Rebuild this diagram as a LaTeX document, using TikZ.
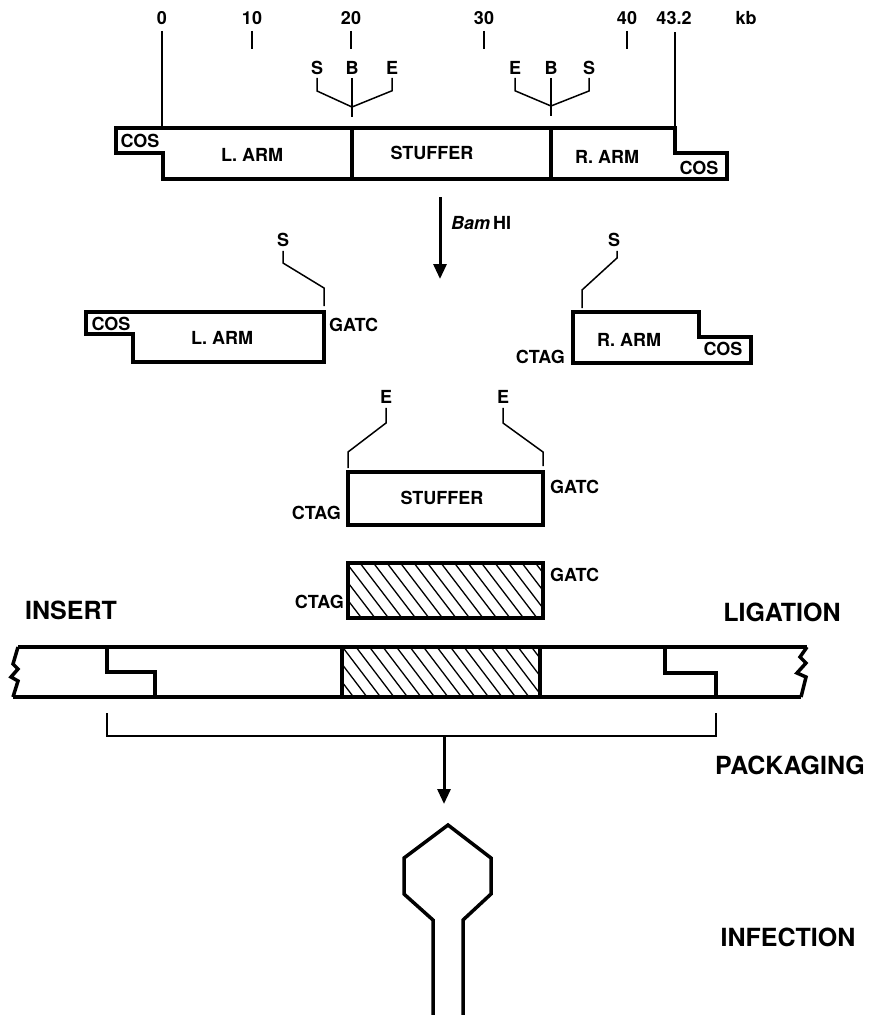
\documentclass[tikz,border=0pt]{standalone}
\usepackage{fontspec}
\setmainfont{TeX Gyre Heros}
\usetikzlibrary{arrows.meta}

\begin{document}
\begin{tikzpicture}[
    x=1pt, y=-1pt,
    every node/.style={font=\fontsize{18}{20}\selectfont\bfseries, inner sep=0pt},
    lbl/.style={font=\fontsize{18}{20}\selectfont\bfseries},
    big/.style={font=\fontsize{25}{27}\selectfont\bfseries},
    dna/.style={line width=3.5pt, line join=miter},
    site/.style={line width=1.5pt},
    hatch/.style={line width=1.3pt},
    arr/.style={line width=3pt, -{Triangle[length=15pt,width=13pt]}}
]
\useasboundingbox (0,0) rectangle (872,1015);

% scale
\node (k0) at (162,18) {0};
\node (k10) at (252,18) {10};
\node (k20) at (351,18) {20};
\node (k30) at (484,18) {30};
\node (k40) at (627,18) {40};
\node (k43) at (674,18) {43.2};
\node[lbl] (kb) at (746,18) {kb};
\draw[site] (k0.south) ++(0,6) -- (162,128);
\draw[site] (k10.south) ++(0,6) -- ++(0,18);
\draw[site] (k20.south) ++(0,6) -- ++(0,18);
\draw[site] (k30.south) ++(0,6) -- ++(0,18);
\draw[site] (k40.south) ++(0,6) -- ++(0,18);
\draw[site] (675,32) -- (675,128);

% vector
\draw[dna] (116,128) -- (675,128) -- (675,153) -- (727,153) -- (727,179)
    -- (163,179) -- (163,153) -- (116,153) -- cycle;
\draw[dna] (352,128) -- (352,179);
\draw[dna] (551,128) -- (551,179);
\node[lbl] (cos1) at (140,141) {COS};
\node[lbl] (larm1) at (252,155) {L. ARM};
\node[lbl] (stuf1) at (432,153) {STUFFER};
\node[lbl] (rarm1) at (607,157) {R. ARM};
\node[lbl] (cos2) at (699,168) {COS};

% sites
\node (s1) at (317,68) {S};
\node (b1) at (352,68) {B};
\node (e1) at (392,68) {E};
\coordinate (j1) at (352,107);
\draw[site] (s1.south) ++(0,3) -- ++(0,13) -- (j1);
\draw[site] (e1.south) ++(0,3) -- ++(0,13) -- (j1);
\draw[site] (b1.south) ++(0,3) -- (352,117);
\node (e2) at (515,68) {E};
\node (b2) at (551,68) {B};
\node (s2) at (589,68) {S};
\coordinate (j2) at (551,106);
\draw[site] (e2.south) ++(0,3) -- ++(0,13) -- (j2);
\draw[site] (s2.south) ++(0,3) -- ++(0,13) -- (j2);
\draw[site] (b2.south) ++(0,3) -- (551,116);

% BamHI
\coordinate (bamtop) at (440,197);
\coordinate (bambot) at (440,279);
\draw[arr] (bamtop) -- (bambot);
\node[lbl, anchor=west] (bam) at (451,223) {\itshape Bam\upshape\,HI};

% left arm
\draw[dna] (86,312) -- (324,312) -- (324,362) -- (133,362) -- (133,334)
    -- (86,334) -- cycle;
\node[lbl] (cos3) at (111,324) {COS};
\node[lbl] (larm2) at (222,338) {L. ARM};
\node[lbl, anchor=west] (gatc1) at (329,325) {GATC};
\node (s3) at (283,240) {S};
\draw[site] (s3.south) ++(0,4) -- (283,263) -- (324,288) -- (324,306);

% right arm
\draw[dna] (573,312) -- (699,312) -- (699,337) -- (751,337) -- (751,363)
    -- (573,363) -- cycle;
\node[lbl] (rarm2) at (629,340) {R. ARM};
\node[lbl] (cos4) at (723,349) {COS};
\node[lbl, anchor=east] (ctag1) at (565,357) {CTAG};
\node (s4) at (614,240) {S};
\draw[site] (s4.south) ++(3,4) -- (617,258) -- (582,290) -- (582,308);

% stuffer
\node (e3) at (386,397) {E};
\node (e4) at (503,397) {E};
\draw[site] (e3.south) ++(0,4) -- (386,423) -- (348,452) -- (348,468);
\draw[site] (e4.south) ++(0,4) -- (503,423) -- (543,452) -- (543,466);
\draw[dna] (348,472) rectangle (543,525);
\node[lbl] (stuf2) at (442,498) {STUFFER};
\node[lbl, anchor=west] (gatc2) at (550,487) {GATC};
\node[lbl, anchor=east] (ctag2) at (341,513) {CTAG};

% insert
\begin{scope}
    \clip (348,563) rectangle (543,618);
    \foreach \x in {306,319.5,...,550}
        \draw[hatch] (\x,563) -- ++(42,55);
\end{scope}
\draw[dna] (348,563) rectangle (543,618);
\node[lbl, anchor=west] (gatc3) at (550,575) {GATC};
\node[lbl, anchor=east] (ctag3) at (344,602) {CTAG};
\node[big] (ins) at (71,610) {INSERT};
\node[big] (lig) at (782,612) {LIGATION};

% ligated
\begin{scope}
    \clip (342,647) rectangle (540,697);
    \foreach \x in {302,315.5,...,545}
        \draw[hatch] (\x,647) -- ++(38,50);
\end{scope}
\draw[dna] (18,647) -- (807,647);
\draw[dna] (13,697) -- (801,697);
\draw[dna] (18,647) -- (13,664) -- (18,669) -- (11,677) -- (18,681) -- (13,697);
\draw[dna] (807,647) -- (800,657) -- (806,663) -- (797,673) -- (806,677) -- (801,697);
\draw[dna] (107,647) -- (107,672) -- (155,672) -- (155,697);
\draw[dna] (665,647) -- (665,673) -- (716,673) -- (716,697);
\draw[dna] (342,647) -- (342,697);
\draw[dna] (540,647) -- (540,697);

% packaging
\coordinate (brl) at (107,713);
\coordinate (brr) at (716,713);
\draw[site] (brl) -- (107,736) -- (716,736) -- (brr);
\coordinate (pktop) at (444,736);
\coordinate (pkbot) at (444,804);
\draw[arr] (pktop) -- (pkbot);
\node[big] (pack) at (790,765) {PACKAGING};

% phage
\draw[dna] (433,1020) -- (433,920) -- (404,894) -- (404,858) -- (448,825)
    -- (491,858) -- (491,894) -- (463,920) -- (463,1020);
\node[big] (inf) at (788,937) {INFECTION};

\end{tikzpicture}
\end{document}
